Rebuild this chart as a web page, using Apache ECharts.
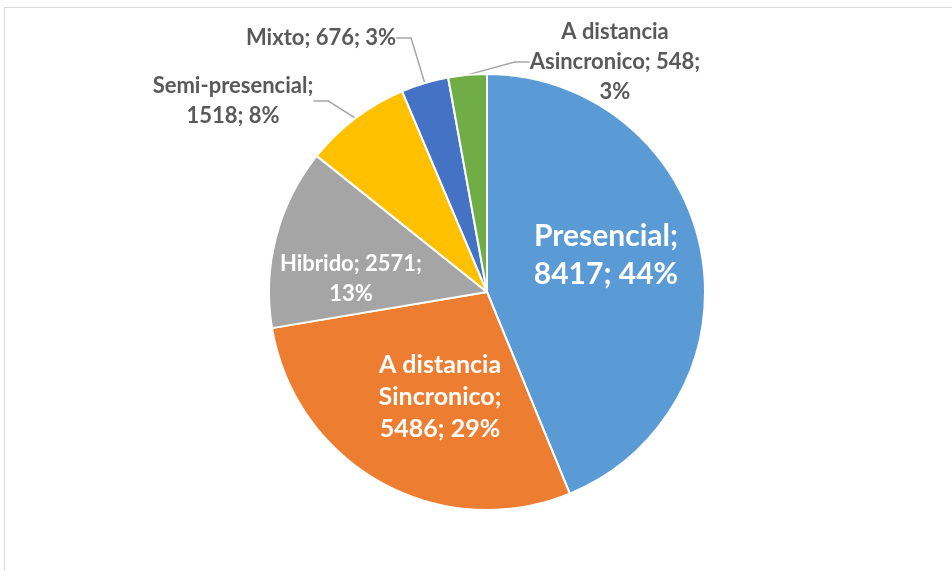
<!DOCTYPE html>
<html>
<head>
<meta charset="utf-8">
<script src="https://cdn.jsdelivr.net/npm/echarts@6/dist/echarts.min.js"></script>
<style>
  html, body { margin: 0; padding: 0; background: #fff; }
  #container { width: 952px; height: 571px; }
</style>
</head>
<body>
<div id="container"></div>
<script>
// datos del grafico
var categories = ['Presencial', 'A distancia Sincronico', 'Hibrido', 'Semi-presencial', 'Mixto', 'A distancia Asincronico'];
var values = [8417, 5486, 2571, 1518, 676, 548];
var percents = [44, 29, 13, 8, 3, 3];

var colors = ['#5B9BD5', '#ED7D31', '#A5A5A5', '#FFC000', '#4472C4', '#70AD47'];

// textos de etiqueta (con saltos como en la imagen)
var labelText = [
	'Presencial;\n8417; 44%',
	'A distancia\nSincronico;\n5486; 29%',
	'Hibrido; 2571;\n13%',
	'Semi-presencial;\n1518; 8%',
	'Mixto; 676; 3%',
	'A distancia\nAsincronico; 548;\n3%'
];

// posicion de cada etiqueta (centro)
var labelPos = [
	[606, 255],
	[440, 397],
	[351, 279],
	[233, 101],
	[321, 38],
	[615, 62]
];

var inside = [true, true, true, false, false, false];
var fontSizes = [30, 25, 22, 22, 22, 22];
var lineHeights = [38, 32, 30, 30, 30, 30];

var dom = document.getElementById('container');
var myChart = echarts.init(dom);

var data = [];
for (var i = 0; i < categories.length; i++) {
	data.push({
		name: categories[i],
		value: values[i],
		itemStyle: { color: colors[i] },
		label: {
			position: inside[i] ? 'inside' : 'outside',
			color: inside[i] ? '#ffffff' : '#595959',
			fontSize: fontSizes[i],
			lineHeight: lineHeights[i]
		},
		labelLine: { show: !inside[i] }
	});
}

var option = {
	animation: false,
	backgroundColor: '#ffffff',
	graphic: [{
		type: 'rect',
		shape: { x: 4.5, y: 7.5, width: 1000, height: 600 },
		style: { fill: 'none', stroke: '#d9d9d9', lineWidth: 1 },
		silent: true
	}],
	series: [{
		type: 'pie',
		center: [487, 292],
		radius: 218,
		startAngle: 90,
		clockwise: true,
		itemStyle: { borderColor: '#ffffff', borderWidth: 2 },
		label: {
			fontFamily: 'Lato',
			fontWeight: 'bold',
			align: 'center',
			formatter: function(p) {
				return labelText[p.dataIndex];
			}
		},
		labelLine: {
			show: true,
			length: 15,
			length2: 15,
			lineStyle: { color: '#a6a6a6', width: 1.5 }
		},
		labelLayout: function(p) {
			var pos = labelPos[p.dataIndex];
			return {
				x: pos[0],
				y: pos[1],
				align: 'center',
				verticalAlign: 'middle'
			};
		},
		data: data
	}]
};

myChart.setOption(option);
</script>
</body>
</html>
